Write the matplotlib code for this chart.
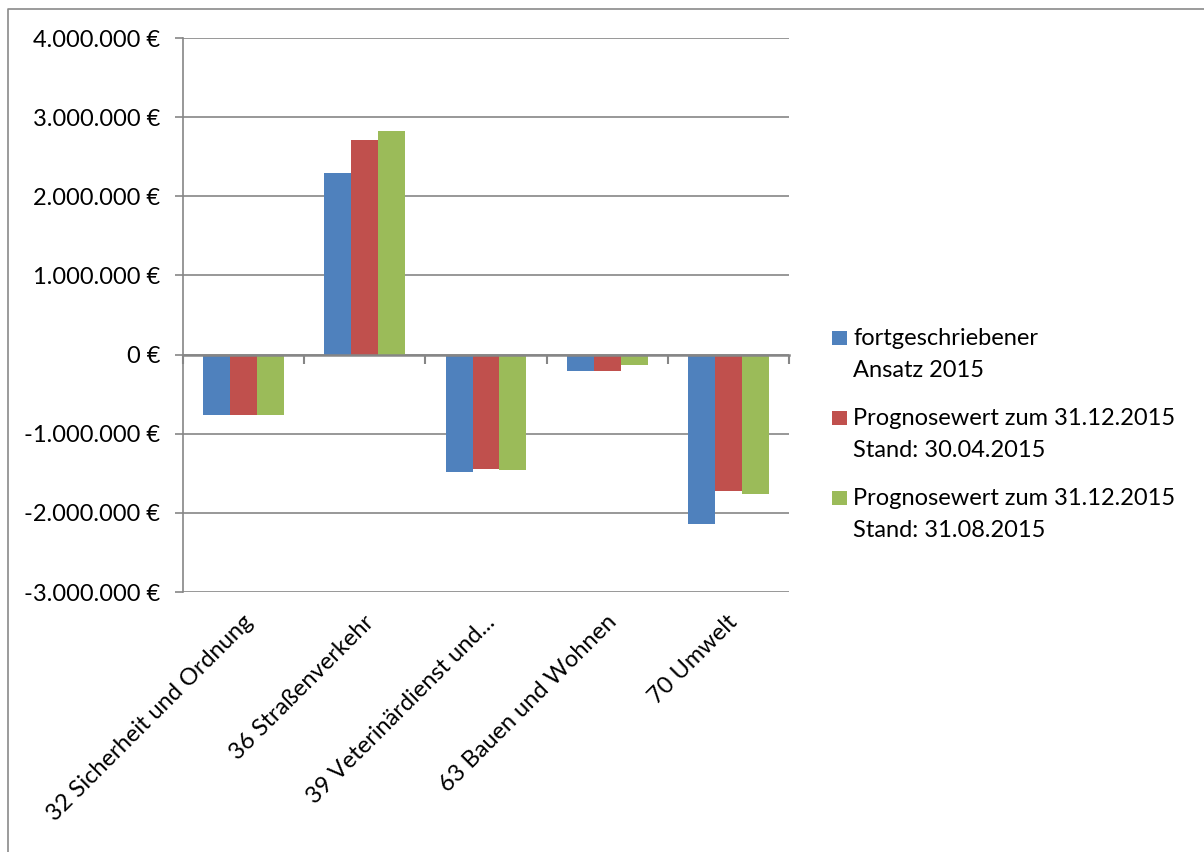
import matplotlib
matplotlib.use('Agg')
import matplotlib.pyplot as plt
import matplotlib.patches as patches
from matplotlib.lines import Line2D
import matplotlib.transforms as mtransforms
import numpy as np

# Data (values in EUR)
categories = ['32 Sicherheit und Ordnung', '36 Straßenverkehr', '39 Veterinärdienst und...',
              '63 Bauen und Wohnen', '70 Umwelt']
ansatz_2015 = [-766000, 2298000, -1486000, -202000, -2143000]
prognose_0430 = [-766000, 2711000, -1443000, -210000, -1720000]
prognose_0831 = [-766000, 2824000, -1456000, -126000, -1767000]

series_labels = [['fortgeschriebener', 'Ansatz 2015'],
                 ['Prognosewert zum 31.12.2015', 'Stand: 30.04.2015'],
                 ['Prognosewert zum 31.12.2015', 'Stand: 31.08.2015']]
series_colors = ['#4F81BD', '#C0504D', '#9BBB59']
y_ticks = [-3000000, -2000000, -1000000, 0, 1000000, 2000000, 3000000, 4000000]

FONT = 'Lato'
FS = 17
GRID = '#868686'

W, H = 1204, 852
fig = plt.figure(figsize=(W / 100, H / 100), dpi=100)
fig.patch.set_facecolor('white')

# plot area in pixel coordinates of the original
left, right, top, bottom = 183, 789, 38, 592
ax = fig.add_axes([left / W, 1 - bottom / H, (right - left) / W, (bottom - top) / H])

x = np.arange(len(categories))
bw = 0.222
for i, (vals, col) in enumerate(zip([ansatz_2015, prognose_0430, prognose_0831], series_colors)):
    ax.bar(x + (i - 1) * bw, vals, width=bw, color=col, edgecolor='none', zorder=3)

ax.set_xlim(-0.5, len(categories) - 0.5)
ax.set_ylim(y_ticks[0], y_ticks[-1])
ax.set_yticks(y_ticks)
ax.set_yticklabels([(f"{v:,.0f}".replace(',', '.') + ' €') for v in y_ticks],
                   fontsize=FS, family=FONT)
ax.yaxis.grid(True, color=GRID, linewidth=1.2, zorder=0)
ax.set_axisbelow(True)

for s in ['top', 'right']:
    ax.spines[s].set_visible(False)
ax.spines['left'].set_color(GRID)
ax.spines['left'].set_linewidth(1.2)
ax.spines['bottom'].set_position(('data', 0))
ax.spines['bottom'].set_color(GRID)
ax.spines['bottom'].set_linewidth(1.8)
ax.spines['bottom'].set_zorder(4)

ax.tick_params(axis='y', direction='out', length=5.5, width=1.2, color=GRID, pad=11)
ax.set_xticks(np.arange(len(categories) + 1) - 0.5)
ax.set_xticklabels([])
ax.tick_params(axis='x', direction='out', length=6.5, width=1.5, color=GRID)

# category labels below the plot
trans = mtransforms.blended_transform_factory(ax.transData, ax.transAxes)
offset = mtransforms.ScaledTranslation(6 / 100, -27 / 100, fig.dpi_scale_trans)
for xi, lab in zip(x, categories):
    ax.text(xi, 0, lab, transform=trans + offset, rotation=45, rotation_mode='anchor',
            ha='right', va='center', fontsize=FS, family=FONT)

# legend (square next to the first line of each entry)
base_lines = [(345, 377), (425, 457), (505, 537)]
for (l1, l2), (b1, b2), col in zip(series_labels, base_lines, series_colors):
    fig.add_artist(patches.Rectangle((832 / W, 1 - b1 / H), 15 / W, 14 / H,
                                     transform=fig.transFigure, facecolor=col, edgecolor='none'))
    fig.text(853 / W, 1 - b1 / H, l1, fontsize=FS, family=FONT, va='baseline', ha='left')
    fig.text(853 / W, 1 - b2 / H, l2, fontsize=FS, family=FONT, va='baseline', ha='left')

# chart area border (left and top visible)
fig.add_artist(Line2D([7.5 / W, 7.5 / W, 1], [0, 1 - 9 / H, 1 - 9 / H],
                      transform=fig.transFigure, color='#8a8a8a', linewidth=1.2))

fig.savefig('out.png', dpi=100, facecolor='white')
